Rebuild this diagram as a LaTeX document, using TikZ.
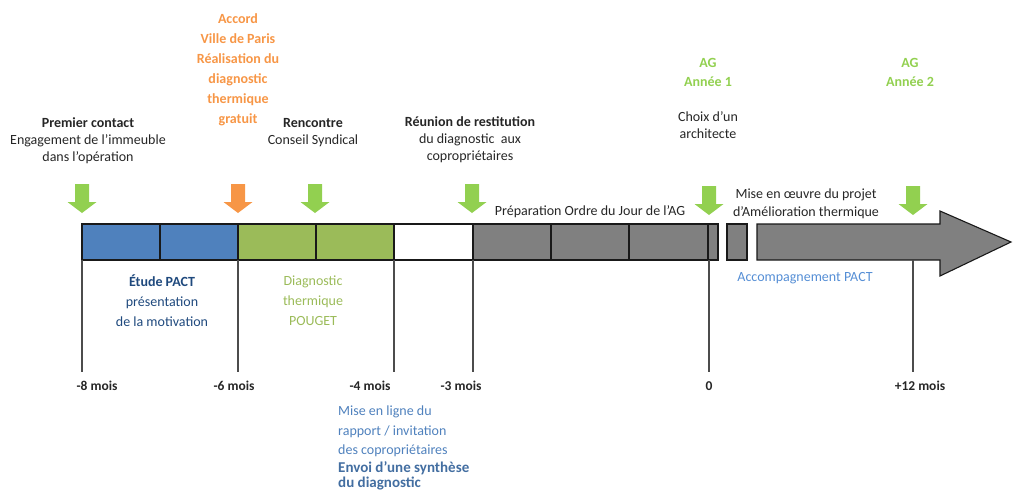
\documentclass[tikz,border=0pt]{standalone}
\usepackage{fontspec}
\setmainfont{Carlito}
\usetikzlibrary{positioning}
\definecolor{ink}{HTML}{262626}
\definecolor{pactblue}{HTML}{4F81BD}
\definecolor{diaggreen}{HTML}{9BBB59}
\definecolor{phasegray}{HTML}{808080}
\definecolor{markgreen}{HTML}{92D050}
\definecolor{accordorange}{HTML}{F79646}
\definecolor{etudeblue}{HTML}{1F497D}
\definecolor{accblue}{HTML}{558ED5}
\tikzset{
	every node/.style={font=\fontsize{14}{17}\selectfont, text=ink, align=center, inner sep=0pt}, % plain labels
	month/.style={font=\bfseries\fontsize{13.5}{16}\selectfont}, % the dates under the time line
	loose/.style={font=\fontsize{14}{20}\selectfont}, % labels with wider line spacing
	bar/.style={draw=black!90, line width=1.1pt}, % blocks of the time line
	tick/.style={draw=black!70, line width=1.1pt}, % lines down to the dates
	pics/pointer/.style={code={\fill[#1] (-7,0) -- (7,0) -- (7,18) -- (14.5,18) -- (0,29) -- (-14.5,18) -- (-7,18) -- cycle;}}, % block arrow
}

\begin{document}
\begin{tikzpicture}[x=1pt, y=-1pt]
	\useasboundingbox (0,0) rectangle (1013,493);
	% time line
	\foreach \xa/\xb/\col in {82/160/pactblue, 160/238/pactblue, 238/316/diaggreen, 316/394/diaggreen, 394/473/white, 473/551/phasegray, 551/629/phasegray, 629/708/phasegray, 708/718/phasegray}
		\draw[bar, fill=\col] (\xa,224) rectangle (\xb,260);
	\draw[bar, fill=phasegray] (727,224) rectangle (747,260);
	\draw[bar, fill=phasegray] (757,224) -- (940,224) -- (940,211) -- (1011,242) -- (940,276) -- (940,260) -- (757,260) -- cycle;
	% ticks
	\foreach \x/\n in {82/m8, 238/m6, 394/m4, 473/m3, 709/z0, 913/p12} {
		\coordinate (\n top) at (\x,260);
		\coordinate (\n end) at (\x,372);
		\draw[tick] (\n top) -- (\n end);
	}
	\node[month] (m8) at (97,386) {-8 mois};
	\node[month] (m6) at (234,386) {-6 mois};
	\node[month] (m4) at (370,386) {-4 mois};
	\node[month] (m3) at (461,386) {-3 mois};
	\node[month] (z0) at (709,386) {0};
	\node[month] (p12) at (920,386) {+12 mois};
	% pointers
	\foreach \x in {82, 315, 472}
		\pic at (\x,184) {pointer=markgreen};
	\pic at (238,184) {pointer=accordorange};
	\foreach \x in {709, 913}
		\pic at (\x,186) {pointer=markgreen};
	% events above
	\node (premier) at (88,141) {\textbf{Premier contact}\\Engagement de l’immeuble\\dans l’opération};
	\node[font=\bfseries\fontsize{14}{20}\selectfont, text=accordorange] (accord) at (238,70) {Accord\\Ville de Paris\\Réalisation du\\diagnostic\\thermique\\gratuit};
	\node (rencontre) at (313,133) {\textbf{Rencontre}\\Conseil Syndical};
	\node (reunion) at (470,140) {\textbf{Réunion de restitution}\\du diagnostic\ \ aux\\copropriétaires};
	\node[font=\bfseries\fontsize{14}{19}\selectfont, text=markgreen] (ag1) at (708,72) {AG\\Année 1};
	\node (choix) at (708,125.5) {Choix d’un\\architecte};
	\node[font=\bfseries\fontsize{14}{19}\selectfont, text=markgreen] (ag2) at (910,72) {AG\\Année 2};
	\node (prep) at (590,212) {Préparation Ordre du Jour de l’AG};
	\node[font=\fontsize{14}{18}\selectfont] (oeuvre) at (806,204) {Mise en œuvre du projet\\d’Amélioration thermique};
	% phases below
	\node[text=accblue] (accomp) at (805,278) {Accompagnement PACT};
	\node[loose, text=etudeblue] (etude) at (162,300.7) {\textbf{Étude PACT}\\présentation\\de la motivation};
	\node[loose, text=diaggreen] (diag) at (313,300.7) {Diagnostic\\thermique\\POUGET};
	\node[font=\fontsize{14}{19.5}\selectfont, text=pactblue, align=left, anchor=west] (miseligne) at (338,431.5) {Mise en ligne du\\rapport / invitation\\des copropriétaires};
	\node[font=\bfseries\fontsize{15}{15}\selectfont, text=pactblue!85!black, align=left, anchor=west] (envoi) at (338,475.5) {Envoi d’une synthèse\\du diagnostic};
\end{tikzpicture}
\end{document}
